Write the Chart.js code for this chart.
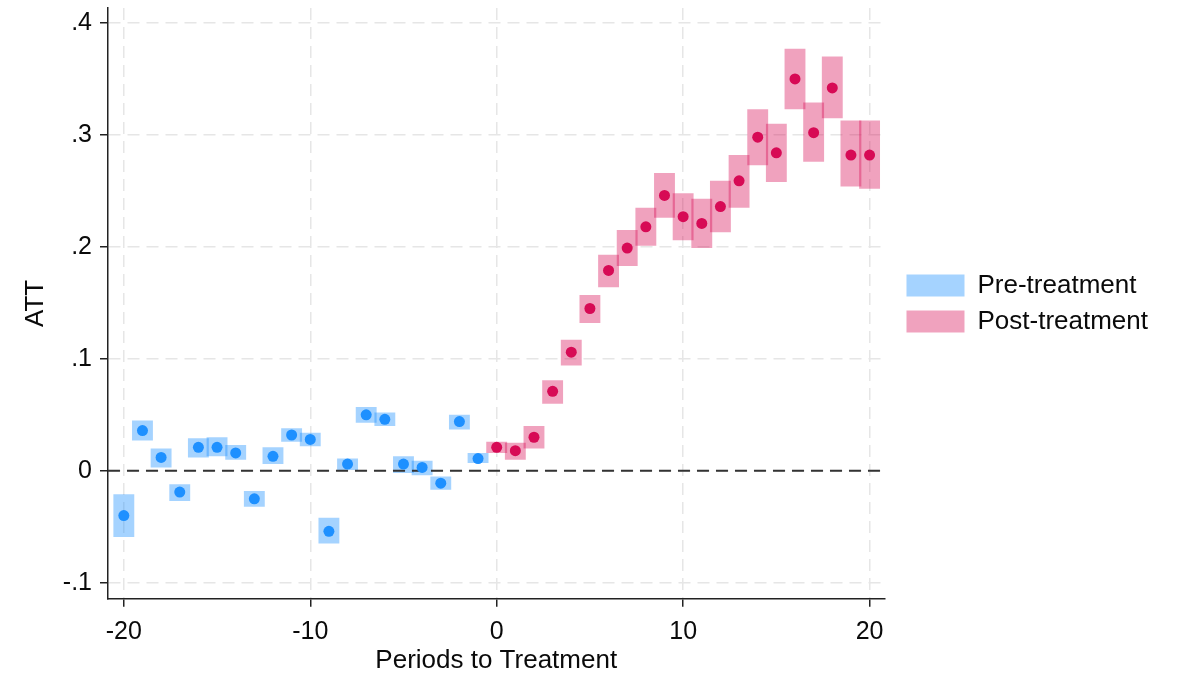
<!DOCTYPE html>
<html>
<head>
<meta charset="utf-8">
<script src="https://cdn.jsdelivr.net/npm/chart.js@4.4.1/dist/chart.umd.min.js"></script>
<style>
  html, body { margin: 0; padding: 0; background: #ffffff; }
  #wrap { width: 1179px; height: 677px; position: relative; }
</style>
</head>
<body>
<div id="wrap"><canvas id="c"></canvas></div>
<script>
// ---- Data ----
const preX    = [-20, -19, -18, -17, -16, -15, -14, -13, -12, -11, -10, -9, -8, -7, -6, -5, -4, -3, -2, -1];
const preATT  = [-0.040, 0.036, 0.012, -0.019, 0.021, 0.021, 0.016, -0.025, 0.013, 0.032, 0.028, -0.054, 0.006, 0.050, 0.046, 0.006, 0.003, -0.011, 0.044, 0.011];
const preLo   = [-0.059, 0.027, 0.003, -0.027, 0.012, 0.013, 0.010, -0.032, 0.006, 0.026, 0.022, -0.065, 0.000, 0.043, 0.040, -0.002, -0.004, -0.017, 0.037, 0.007];
const preHi   = [-0.021, 0.045, 0.020, -0.012, 0.029, 0.030, 0.023, -0.018, 0.021, 0.038, 0.034, -0.042, 0.011, 0.057, 0.052, 0.013, 0.009, -0.005, 0.050, 0.016];

const postX   = [0, 1, 2, 3, 4, 5, 6, 7, 8, 9, 10, 11, 12, 13, 14, 15, 16, 17, 18, 19, 20];
const postATT = [0.021, 0.018, 0.030, 0.071, 0.106, 0.145, 0.179, 0.199, 0.218, 0.246, 0.227, 0.221, 0.236, 0.259, 0.298, 0.284, 0.350, 0.302, 0.342, 0.282, 0.282];
const postLo  = [0.016, 0.010, 0.020, 0.060, 0.094, 0.132, 0.164, 0.183, 0.201, 0.226, 0.206, 0.199, 0.213, 0.235, 0.273, 0.258, 0.323, 0.276, 0.315, 0.254, 0.252];
const postHi  = [0.026, 0.025, 0.040, 0.081, 0.117, 0.157, 0.193, 0.215, 0.235, 0.266, 0.248, 0.243, 0.259, 0.282, 0.323, 0.310, 0.377, 0.329, 0.370, 0.313, 0.313];

const xTicks = [-20, -10, 0, 10, 20];
const xTickLabels = ['-20', '-10', '0', '10', '20'];
const yTicks = [-0.1, 0, 0.1, 0.2, 0.3, 0.4];
const yTickLabels = ['-.1', '0', '.1', '.2', '.3', '.4'];

const seriesNames = ['Pre-treatment', 'Post-treatment'];
const xTitle = 'Periods to Treatment';
const yTitle = 'ATT';

// ---- Styling ----
const FONT = '"Liberation Sans", Arial, Helvetica, sans-serif';
const preDot = 'rgb(30,144,255)';
const preBox = 'rgba(30,144,255,0.40)';
const postDot = 'rgb(215,10,85)';
const postBox = 'rgba(215,10,85,0.38)';

Chart.defaults.font.family = FONT;
Chart.defaults.color = '#0a0a0a';

const boxData = (xs, lo, hi) => xs.map((x, i) => ({ x: x, y: [lo[i], hi[i]] }));
const ptData = (xs, ys) => xs.map((x, i) => ({ x: x, y: ys[i] }));

const zeroLine = {
  id: 'zeroLine',
  beforeDraw(chart) { chart.$zeroDone = false; },
  beforeDatasetDraw(chart, args) {
    if (chart.$zeroDone || args.meta.type !== 'scatter') return;
    chart.$zeroDone = true;
    const ctx = chart.ctx;
    const y = chart.scales.y.getPixelForValue(0);
    const { left, right } = chart.chartArea;
    ctx.save();
    ctx.strokeStyle = '#333333';
    ctx.lineWidth = 2;
    ctx.setLineDash([12, 7]);
    ctx.beginPath();
    ctx.moveTo(left, y);
    ctx.lineTo(right, y);
    ctx.stroke();
    ctx.restore();
  }
};

const legendShift = {
  id: 'legendShift',
  afterLayout(chart) {
    const l = chart.legend;
    if (l) { l.left += 12; l.right += 12; }
  }
};

new Chart(document.getElementById('c'), {
  type: 'scatter',
  data: {
    datasets: [
      { type: 'bar', label: seriesNames[0], data: boxData(preX, preLo, preHi),
        backgroundColor: preBox, borderWidth: 0, grouped: false,
        categoryPercentage: 1, barPercentage: 1.12, order: 3 },
      { type: 'bar', label: seriesNames[1], data: boxData(postX, postLo, postHi),
        backgroundColor: postBox, borderWidth: 0, grouped: false,
        categoryPercentage: 1, barPercentage: 1.12, order: 3 },
      { type: 'scatter', label: 'pre-points', data: ptData(preX, preATT),
        backgroundColor: preDot, borderWidth: 0, pointRadius: 5.5, order: 1 },
      { type: 'scatter', label: 'post-points', data: ptData(postX, postATT),
        backgroundColor: postDot, borderWidth: 0, pointRadius: 5.5, order: 1 }
    ]
  },
  options: {
    responsive: true,
    maintainAspectRatio: false,
    animation: false,
    events: [],
    layout: { padding: { top: 8, right: 33, bottom: 0, left: 20 } },
    scales: {
      x: {
        type: 'linear',
        offset: false,
        min: -20.85,
        max: 20.8,
        afterBuildTicks: (s) => { s.ticks = xTicks.map(v => ({ value: v })); },
        ticks: {
          font: { size: 25 },
          padding: 10,
          maxRotation: 0,
          autoSkip: false,
          callback: (v) => { const i = xTicks.indexOf(v); return i >= 0 ? xTickLabels[i] : ''; }
        },
        grid: { offset: false, color: '#e6e6e6', lineWidth: 1.5, tickColor: '#222', tickLength: 8, tickWidth: 1.5 },
        border: { display: true, color: '#222', width: 1.5, dash: [12, 7] },
        title: { display: true, text: xTitle, font: { size: 26 }, padding: { top: -12, bottom: 1 } }
      },
      y: {
        type: 'linear',
        offset: false,
        min: -0.1143,
        max: 0.4134,
        afterBuildTicks: (s) => { s.ticks = yTicks.map(v => ({ value: v })); },
        afterFit: (s) => { s.paddingTop = 0; s.paddingBottom = 0; },
        ticks: {
          font: { size: 25 },
          padding: 8,
          autoSkip: false,
          callback: (v) => { const i = yTicks.findIndex(t => Math.abs(t - v) < 1e-9); return i >= 0 ? yTickLabels[i] : ''; }
        },
        grid: { offset: false, color: '#e6e6e6', lineWidth: 1.5, tickColor: '#222', tickLength: 8, tickWidth: 1.5 },
        border: { display: true, color: '#222', width: 1.5, dash: [12, 7] },
        title: { display: true, text: yTitle, font: { size: 26 }, padding: { top: 0, bottom: 3.6 } }
      }
    },
    plugins: {
      tooltip: { enabled: false },
      legend: {
        position: 'right',
        fullSize: false,
        labels: {
          font: { size: 26 },
          boxWidth: 58,
          boxHeight: 22,
          padding: 10,
          filter: (item) => item.datasetIndex < 2
        }
      }
    }
  },
  plugins: [zeroLine, legendShift]
});
</script>
</body>
</html>
